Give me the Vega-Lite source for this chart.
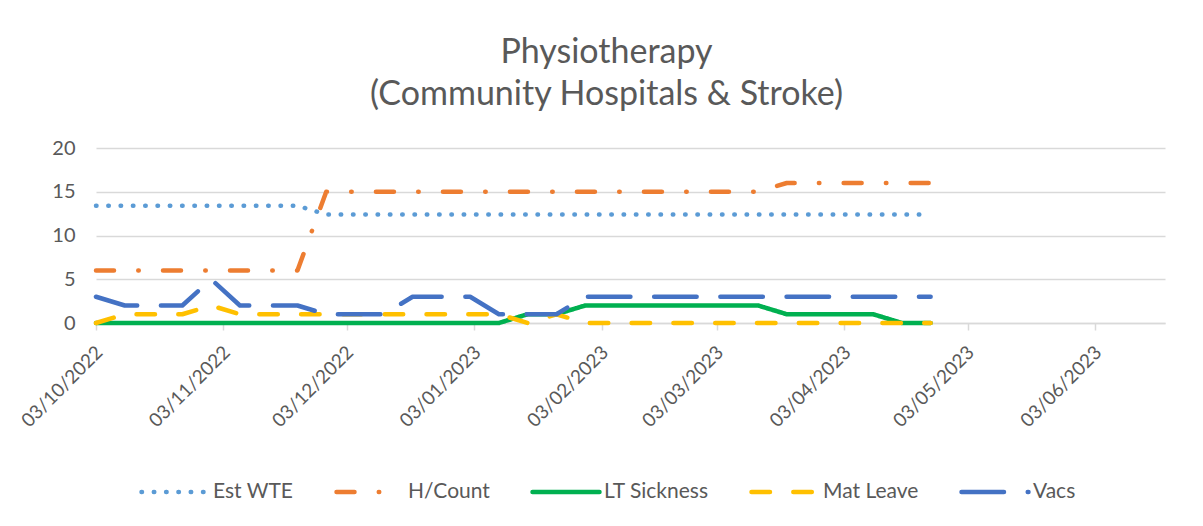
{
  "$schema": "https://vega.github.io/schema/vega-lite/v6.json",
  "width": 1069,
  "height": 175,
  "autosize": "none",
  "padding": {"left": 96, "top": 148, "right": 38, "bottom": 203},
  "background": "white",
  "title": {
    "text": ["Physiotherapy", "(Community Hospitals & Stroke)"],
    "fontSize": 34,
    "font": "Lato",
    "fontWeight": "normal",
    "color": "#595959",
    "anchor": "middle",
    "dx": -24,
    "offset": 26,
    "lineHeight": 42
  },
  "data": {
    "values": [
      {"date": "2022-10-03", "series": "Est WTE", "value": 13.4},
      {"date": "2022-10-10", "series": "Est WTE", "value": 13.4},
      {"date": "2022-10-17", "series": "Est WTE", "value": 13.4},
      {"date": "2022-10-24", "series": "Est WTE", "value": 13.4},
      {"date": "2022-10-31", "series": "Est WTE", "value": 13.4},
      {"date": "2022-11-07", "series": "Est WTE", "value": 13.4},
      {"date": "2022-11-14", "series": "Est WTE", "value": 13.4},
      {"date": "2022-11-21", "series": "Est WTE", "value": 13.4},
      {"date": "2022-11-28", "series": "Est WTE", "value": 12.4},
      {"date": "2022-12-05", "series": "Est WTE", "value": 12.4},
      {"date": "2022-12-12", "series": "Est WTE", "value": 12.4},
      {"date": "2022-12-19", "series": "Est WTE", "value": 12.4},
      {"date": "2022-12-26", "series": "Est WTE", "value": 12.4},
      {"date": "2023-01-02", "series": "Est WTE", "value": 12.4},
      {"date": "2023-01-09", "series": "Est WTE", "value": 12.4},
      {"date": "2023-01-16", "series": "Est WTE", "value": 12.4},
      {"date": "2023-01-23", "series": "Est WTE", "value": 12.4},
      {"date": "2023-01-30", "series": "Est WTE", "value": 12.4},
      {"date": "2023-02-06", "series": "Est WTE", "value": 12.4},
      {"date": "2023-02-13", "series": "Est WTE", "value": 12.4},
      {"date": "2023-02-20", "series": "Est WTE", "value": 12.4},
      {"date": "2023-02-27", "series": "Est WTE", "value": 12.4},
      {"date": "2023-03-06", "series": "Est WTE", "value": 12.4},
      {"date": "2023-03-13", "series": "Est WTE", "value": 12.4},
      {"date": "2023-03-20", "series": "Est WTE", "value": 12.4},
      {"date": "2023-03-27", "series": "Est WTE", "value": 12.4},
      {"date": "2023-04-03", "series": "Est WTE", "value": 12.4},
      {"date": "2023-04-10", "series": "Est WTE", "value": 12.4},
      {"date": "2023-04-17", "series": "Est WTE", "value": 12.4},
      {"date": "2023-04-24", "series": "Est WTE", "value": 12.4},

      {"date": "2022-10-03", "series": "H/Count", "value": 6},
      {"date": "2022-10-10", "series": "H/Count", "value": 6},
      {"date": "2022-10-17", "series": "H/Count", "value": 6},
      {"date": "2022-10-24", "series": "H/Count", "value": 6},
      {"date": "2022-10-31", "series": "H/Count", "value": 6},
      {"date": "2022-11-07", "series": "H/Count", "value": 6},
      {"date": "2022-11-14", "series": "H/Count", "value": 6},
      {"date": "2022-11-21", "series": "H/Count", "value": 6},
      {"date": "2022-11-28", "series": "H/Count", "value": 15},
      {"date": "2022-12-05", "series": "H/Count", "value": 15},
      {"date": "2022-12-12", "series": "H/Count", "value": 15},
      {"date": "2022-12-19", "series": "H/Count", "value": 15},
      {"date": "2022-12-26", "series": "H/Count", "value": 15},
      {"date": "2023-01-02", "series": "H/Count", "value": 15},
      {"date": "2023-01-09", "series": "H/Count", "value": 15},
      {"date": "2023-01-16", "series": "H/Count", "value": 15},
      {"date": "2023-01-23", "series": "H/Count", "value": 15},
      {"date": "2023-01-30", "series": "H/Count", "value": 15},
      {"date": "2023-02-06", "series": "H/Count", "value": 15},
      {"date": "2023-02-13", "series": "H/Count", "value": 15},
      {"date": "2023-02-20", "series": "H/Count", "value": 15},
      {"date": "2023-02-27", "series": "H/Count", "value": 15},
      {"date": "2023-03-06", "series": "H/Count", "value": 15},
      {"date": "2023-03-13", "series": "H/Count", "value": 15},
      {"date": "2023-03-20", "series": "H/Count", "value": 16},
      {"date": "2023-03-27", "series": "H/Count", "value": 16},
      {"date": "2023-04-03", "series": "H/Count", "value": 16},
      {"date": "2023-04-10", "series": "H/Count", "value": 16},
      {"date": "2023-04-17", "series": "H/Count", "value": 16},
      {"date": "2023-04-24", "series": "H/Count", "value": 16},

      {"date": "2022-10-03", "series": "LT Sickness", "value": 0},
      {"date": "2022-10-10", "series": "LT Sickness", "value": 0},
      {"date": "2022-10-17", "series": "LT Sickness", "value": 0},
      {"date": "2022-10-24", "series": "LT Sickness", "value": 0},
      {"date": "2022-10-31", "series": "LT Sickness", "value": 0},
      {"date": "2022-11-07", "series": "LT Sickness", "value": 0},
      {"date": "2022-11-14", "series": "LT Sickness", "value": 0},
      {"date": "2022-11-21", "series": "LT Sickness", "value": 0},
      {"date": "2022-11-28", "series": "LT Sickness", "value": 0},
      {"date": "2022-12-05", "series": "LT Sickness", "value": 0},
      {"date": "2022-12-12", "series": "LT Sickness", "value": 0},
      {"date": "2022-12-19", "series": "LT Sickness", "value": 0},
      {"date": "2022-12-26", "series": "LT Sickness", "value": 0},
      {"date": "2023-01-02", "series": "LT Sickness", "value": 0},
      {"date": "2023-01-09", "series": "LT Sickness", "value": 0},
      {"date": "2023-01-16", "series": "LT Sickness", "value": 1},
      {"date": "2023-01-23", "series": "LT Sickness", "value": 1},
      {"date": "2023-01-30", "series": "LT Sickness", "value": 2},
      {"date": "2023-02-06", "series": "LT Sickness", "value": 2},
      {"date": "2023-02-13", "series": "LT Sickness", "value": 2},
      {"date": "2023-02-20", "series": "LT Sickness", "value": 2},
      {"date": "2023-02-27", "series": "LT Sickness", "value": 2},
      {"date": "2023-03-06", "series": "LT Sickness", "value": 2},
      {"date": "2023-03-13", "series": "LT Sickness", "value": 2},
      {"date": "2023-03-20", "series": "LT Sickness", "value": 1},
      {"date": "2023-03-27", "series": "LT Sickness", "value": 1},
      {"date": "2023-04-03", "series": "LT Sickness", "value": 1},
      {"date": "2023-04-10", "series": "LT Sickness", "value": 1},
      {"date": "2023-04-17", "series": "LT Sickness", "value": 0},
      {"date": "2023-04-24", "series": "LT Sickness", "value": 0},

      {"date": "2022-10-03", "series": "Mat Leave", "value": 0},
      {"date": "2022-10-10", "series": "Mat Leave", "value": 1},
      {"date": "2022-10-17", "series": "Mat Leave", "value": 1},
      {"date": "2022-10-24", "series": "Mat Leave", "value": 1},
      {"date": "2022-10-31", "series": "Mat Leave", "value": 2},
      {"date": "2022-11-07", "series": "Mat Leave", "value": 1},
      {"date": "2022-11-14", "series": "Mat Leave", "value": 1},
      {"date": "2022-11-21", "series": "Mat Leave", "value": 1},
      {"date": "2022-11-28", "series": "Mat Leave", "value": 1},
      {"date": "2022-12-05", "series": "Mat Leave", "value": 1},
      {"date": "2022-12-12", "series": "Mat Leave", "value": 1},
      {"date": "2022-12-19", "series": "Mat Leave", "value": 1},
      {"date": "2022-12-26", "series": "Mat Leave", "value": 1},
      {"date": "2023-01-02", "series": "Mat Leave", "value": 1},
      {"date": "2023-01-09", "series": "Mat Leave", "value": 1},
      {"date": "2023-01-16", "series": "Mat Leave", "value": 0},
      {"date": "2023-01-23", "series": "Mat Leave", "value": 1},
      {"date": "2023-01-30", "series": "Mat Leave", "value": 0},
      {"date": "2023-02-06", "series": "Mat Leave", "value": 0},
      {"date": "2023-02-13", "series": "Mat Leave", "value": 0},
      {"date": "2023-02-20", "series": "Mat Leave", "value": 0},
      {"date": "2023-02-27", "series": "Mat Leave", "value": 0},
      {"date": "2023-03-06", "series": "Mat Leave", "value": 0},
      {"date": "2023-03-13", "series": "Mat Leave", "value": 0},
      {"date": "2023-03-20", "series": "Mat Leave", "value": 0},
      {"date": "2023-03-27", "series": "Mat Leave", "value": 0},
      {"date": "2023-04-03", "series": "Mat Leave", "value": 0},
      {"date": "2023-04-10", "series": "Mat Leave", "value": 0},
      {"date": "2023-04-17", "series": "Mat Leave", "value": 0},
      {"date": "2023-04-24", "series": "Mat Leave", "value": 0},

      {"date": "2022-10-03", "series": "Vacs", "value": 3},
      {"date": "2022-10-10", "series": "Vacs", "value": 2},
      {"date": "2022-10-17", "series": "Vacs", "value": 2},
      {"date": "2022-10-24", "series": "Vacs", "value": 2},
      {"date": "2022-10-31", "series": "Vacs", "value": 5},
      {"date": "2022-11-07", "series": "Vacs", "value": 2},
      {"date": "2022-11-14", "series": "Vacs", "value": 2},
      {"date": "2022-11-21", "series": "Vacs", "value": 2},
      {"date": "2022-11-28", "series": "Vacs", "value": 1},
      {"date": "2022-12-05", "series": "Vacs", "value": 1},
      {"date": "2022-12-12", "series": "Vacs", "value": 1},
      {"date": "2022-12-19", "series": "Vacs", "value": 3},
      {"date": "2022-12-26", "series": "Vacs", "value": 3},
      {"date": "2023-01-02", "series": "Vacs", "value": 3},
      {"date": "2023-01-09", "series": "Vacs", "value": 1},
      {"date": "2023-01-16", "series": "Vacs", "value": 1},
      {"date": "2023-01-23", "series": "Vacs", "value": 1},
      {"date": "2023-01-30", "series": "Vacs", "value": 3},
      {"date": "2023-02-06", "series": "Vacs", "value": 3},
      {"date": "2023-02-13", "series": "Vacs", "value": 3},
      {"date": "2023-02-20", "series": "Vacs", "value": 3},
      {"date": "2023-02-27", "series": "Vacs", "value": 3},
      {"date": "2023-03-06", "series": "Vacs", "value": 3},
      {"date": "2023-03-13", "series": "Vacs", "value": 3},
      {"date": "2023-03-20", "series": "Vacs", "value": 3},
      {"date": "2023-03-27", "series": "Vacs", "value": 3},
      {"date": "2023-04-03", "series": "Vacs", "value": 3},
      {"date": "2023-04-10", "series": "Vacs", "value": 3},
      {"date": "2023-04-17", "series": "Vacs", "value": 3},
      {"date": "2023-04-24", "series": "Vacs", "value": 3}
    ]
  },
  "mark": {"type": "line", "strokeWidth": 4.5, "strokeCap": "round", "strokeJoin": "round"},
  "encoding": {
    "x": {
      "field": "date",
      "type": "temporal",
      "scale": {
        "type": "utc",
        "domain": [
          {"year": 2022, "month": 10, "date": 3, "utc": true},
          {"year": 2023, "month": 6, "date": 20, "utc": true}
        ]
      },
      "axis": {
        "values": [
          {"year": 2022, "month": 10, "date": 3, "utc": true},
          {"year": 2022, "month": 11, "date": 3, "utc": true},
          {"year": 2022, "month": 12, "date": 3, "utc": true},
          {"year": 2023, "month": 1, "date": 3, "utc": true},
          {"year": 2023, "month": 2, "date": 3, "utc": true},
          {"year": 2023, "month": 3, "date": 3, "utc": true},
          {"year": 2023, "month": 4, "date": 3, "utc": true},
          {"year": 2023, "month": 5, "date": 3, "utc": true},
          {"year": 2023, "month": 6, "date": 3, "utc": true}
        ],
        "format": "%d/%m/%Y",
        "labelAngle": -45,
        "labelAlign": "right",
        "labelBaseline": "middle",
        "labelFont": "Lato",
        "labelFontSize": 19,
        "labelColor": "#595959",
        "labelPadding": 19,
        "labelOffset": 3,
        "labelOverlap": false,
        "labelFlush": false,
        "labelBound": false,
        "tickColor": "#D9D9D9",
        "tickSize": 7,
        "tickWidth": 1.5,
        "domainColor": "#D9D9D9",
        "domainWidth": 1.5,
        "grid": false,
        "title": null
      }
    },
    "y": {
      "field": "value",
      "type": "quantitative",
      "scale": {"domain": [0, 20], "nice": false, "zero": true},
      "axis": {
        "values": [0, 5, 10, 15, 20],
        "domain": false,
        "ticks": false,
        "labelPadding": 21,
        "labelFont": "Lato",
        "labelFontSize": 20,
        "labelColor": "#595959",
        "gridColor": "#D9D9D9",
        "gridWidth": 1.5,
        "title": null
      }
    },
    "color": {
      "field": "series",
      "type": "nominal",
      "scale": {
        "domain": ["Est WTE", "H/Count", "LT Sickness", "Mat Leave", "Vacs"],
        "range": ["#5B9BD5", "#ED7D31", "#00B050", "#FFC000", "#4472C4"]
      },
      "legend": {
        "orient": "none",
        "legendX": 43,
        "legendY": 308,
        "direction": "horizontal",
        "title": null,
        "symbolType": "stroke",
        "symbolSize": 4489,
        "symbolStrokeWidth": 4.5,
        "labelFont": "Lato",
        "labelFontSize": 21,
        "labelColor": "#595959",
        "labelOffset": 2,
        "columnPadding": 33,
        "padding": 0,
        "encode": {"symbols": {"update": {"strokeCap": {"value": "round"}}}}
      }
    },
    "strokeDash": {
      "field": "series",
      "type": "nominal",
      "scale": {
        "domain": ["Est WTE", "H/Count", "LT Sickness", "Mat Leave", "Vacs"],
        "range": [[0.5, 11.8], [18, 24.25, 0.5, 24.25], [1, 0], [18.5, 23.3], [42.5, 23.7]]
      },
      "legend": {
        "orient": "none",
        "legendX": 43,
        "legendY": 308,
        "direction": "horizontal",
        "title": null,
        "symbolType": "stroke",
        "symbolSize": 4489,
        "symbolStrokeWidth": 4.5,
        "labelFont": "Lato",
        "labelFontSize": 21,
        "labelColor": "#595959",
        "labelOffset": 2,
        "columnPadding": 33,
        "padding": 0,
        "encode": {"symbols": {"update": {"strokeCap": {"value": "round"}}}}
      }
    }
  },
  "config": {"view": {"stroke": null}, "font": "Lato"}
}
